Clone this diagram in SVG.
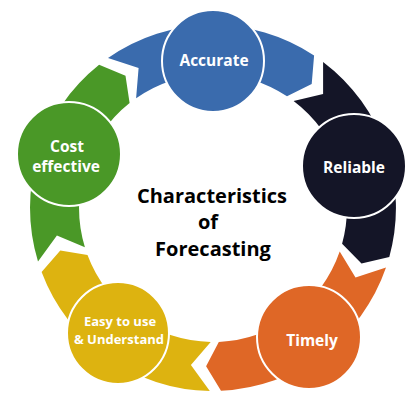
<svg xmlns="http://www.w3.org/2000/svg" width="418" height="407" viewBox="0 0 418 407">
<style>
.seg{stroke:none}
.node circle{stroke:#ffffff;stroke-width:2}
.lbl{font-family:"Open Sans","Noto Sans","Liberation Sans",sans-serif;font-weight:bold;fill:#ffffff;text-anchor:middle;font-size:15.5px}
.sm{font-size:13px}
.title{font-family:"Open Sans","Noto Sans","Liberation Sans",sans-serif;font-weight:bold;fill:#000000;text-anchor:middle;font-size:20px}
</style>
<rect width="418" height="407" fill="#ffffff"/>
<g id="connectors">
<path class="seg" fill="#3A6BAD" d="M108,58.1 A183,183 0 0 1 314.1,55.4 L311.7,84 L287,96.3 A134,134 0 0 0 136.1,98.2 L138.6,68.1 Z"/>
<path class="seg" fill="#141527" d="M323.1,61.9 A183,183 0 0 1 389.3,256.9 L361.5,263.5 L342.1,243.8 A134,134 0 0 0 293.6,101 L323.1,94 Z"/>
<path class="seg" fill="#DF6726" d="M386,267.6 A183,183 0 0 1 221,390.8 L206.1,366.3 L218.8,341.9 A134,134 0 0 0 339.7,251.6 L355.5,277.5 Z"/>
<path class="seg" fill="#DDB310" d="M209.8,391 A183,183 0 0 1 41.6,272.1 L60.3,250.4 L87.5,254.9 A134,134 0 0 0 210.7,342 L190.9,365 Z"/>
<path class="seg" fill="#4A9827" d="M38,261.5 A183,183 0 0 1 99.1,64.8 L125.5,75.8 L129.6,103.1 A134,134 0 0 0 84.9,247.2 L56.9,235.5 Z"/>
</g>
<g id="node-accurate" class="node">
<circle cx="213" cy="61" r="51" fill="#3A6BAD"/>
<text class="lbl" x="214" y="66">Accurate</text>
</g>
<g id="node-reliable" class="node">
<circle cx="354" cy="166" r="52" fill="#141527"/>
<text class="lbl" x="354" y="173">Reliable</text>
</g>
<g id="node-timely" class="node">
<circle cx="309" cy="337" r="52" fill="#DF6726"/>
<text class="lbl" x="312" y="346">Timely</text>
</g>
<g id="node-easy" class="node">
<circle cx="118" cy="333" r="51" fill="#DDB310"/>
<text class="lbl sm" x="120" y="326">Easy to use</text>
<text class="lbl sm" x="119" y="344">&amp; Understand</text>
</g>
<g id="node-cost" class="node">
<circle cx="69" cy="154" r="52" fill="#4A9827"/>
<text class="lbl" x="67" y="152">Cost</text>
<text class="lbl" x="66" y="172">effective</text>
</g>
<g id="title">
<text class="title" x="212" y="203">Characteristics</text>
<text class="title" x="208" y="229">of</text>
<text class="title" x="213" y="256">Forecasting</text>
</g>
</svg>
